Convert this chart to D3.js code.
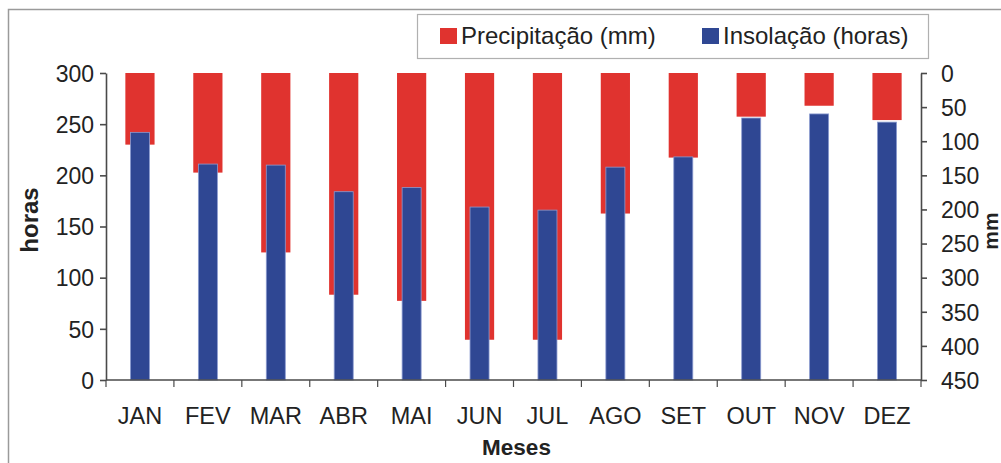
<!DOCTYPE html>
<html>
<head>
<meta charset="utf-8">
<script src="https://cdn.jsdelivr.net/npm/d3@7"></script>
<style>
  html, body { margin: 0; padding: 0; background: #fff; }
  svg { display: block; font-family: "Liberation Sans", Arial, sans-serif; }
</style>
</head>
<body>
<svg id="chart" width="1001" height="463"></svg>
<script>
// Monthly climate normals
const months = ["JAN", "FEV", "MAR", "ABR", "MAI", "JUN", "JUL", "AGO", "SET", "OUT", "NOV", "DEZ"];
const precipitacao = [105, 146, 263, 325, 334, 391, 391, 206, 124, 64, 48, 69];   // mm (right axis, inverted)
const insolacao = [242, 211, 210, 184, 188, 169, 166, 208, 218, 256, 260, 252];   // horas (left axis)
const horasTicks = [0, 50, 100, 150, 200, 250, 300];
const mmTicks = [0, 50, 100, 150, 200, 250, 300, 350, 400, 450];

const svg = d3.select("#chart");
const W = 1001, H = 463;
const plot = { left: 106, right: 921, top: 73, bottom: 380 };

const RED = "#e0332f";
const BLUE = "#2f4793";
const AXIS = "#4a4a4a";
const TEXT = "#222";

// Outer frame
svg.append("rect")
  .attr("x", 8.5).attr("y", 9.5)
  .attr("width", W + 10).attr("height", H + 10)
  .attr("fill", "none").attr("stroke", "#9a9a9a").attr("stroke-width", 1.5);

const x = d3.scaleBand().domain(months).range([plot.left, plot.right]).padding(0);
const yH = d3.scaleLinear().domain([0, 300]).range([plot.bottom, plot.top]);
const yMM = d3.scaleLinear().domain([0, 450]).range([plot.top, plot.bottom]);

const redW = x.bandwidth() * 0.43;
const blueW = x.bandwidth() * 0.28;

// Precipitation bars hang from the top (inverted secondary axis)
svg.append("g").selectAll("rect")
  .data(months)
  .join("rect")
  .attr("x", (d) => x(d) + (x.bandwidth() - redW) / 2)
  .attr("y", yMM(0))
  .attr("width", redW)
  .attr("height", (d, i) => yMM(precipitacao[i]) - yMM(0))
  .attr("fill", RED);

// Sunshine bars rise from the bottom
svg.append("g").selectAll("rect")
  .data(months)
  .join("rect")
  .attr("x", (d) => x(d) + (x.bandwidth() - blueW) / 2)
  .attr("y", (d, i) => yH(insolacao[i]))
  .attr("width", blueW)
  .attr("height", (d, i) => yH(0) - yH(insolacao[i]))
  .attr("fill", BLUE)
  .attr("stroke", "#8b9bd0")
  .attr("stroke-width", 0.8);

function styleAxis(g) {
  g.selectAll("path, line").attr("stroke", AXIS).attr("stroke-width", 1.6);
  g.selectAll("text").attr("fill", TEXT).attr("font-size", "23px")
    .attr("font-family", "'Liberation Sans', Arial, sans-serif");
}

// Left axis (horas)
svg.append("g")
  .attr("transform", `translate(${plot.left},0)`)
  .call(d3.axisLeft(yH).tickValues(horasTicks).tickSize(6).tickSizeOuter(0).tickPadding(6))
  .call(styleAxis)
  .selectAll("text").attr("dy", "0.36em");

// Right axis (mm)
svg.append("g")
  .attr("transform", `translate(${plot.right},0)`)
  .call(d3.axisRight(yMM).tickValues(mmTicks).tickSize(6).tickSizeOuter(0).tickPadding(14))
  .call(styleAxis)
  .selectAll("text").attr("dy", "0.36em");

// Bottom axis with ticks at category boundaries
const xAxis = svg.append("g").attr("transform", `translate(0,${plot.bottom})`);
xAxis.append("line")
  .attr("x1", plot.left).attr("x2", plot.right)
  .attr("stroke", AXIS).attr("stroke-width", 1.6);
const boundaries = months.map((d) => x(d)).concat([plot.right]);
xAxis.selectAll("line.tick")
  .data(boundaries)
  .join("line")
  .attr("class", "tick")
  .attr("x1", (d) => d).attr("x2", (d) => d)
  .attr("y1", 0).attr("y2", 7)
  .attr("stroke", AXIS).attr("stroke-width", 1.2);
xAxis.selectAll("text")
  .data(months)
  .join("text")
  .attr("x", (d) => x(d) + x.bandwidth() / 2)
  .attr("y", 44)
  .attr("text-anchor", "middle")
  .attr("font-size", "23.5px")
  .attr("fill", TEXT)
  .text((d) => d);

// Axis titles
svg.append("text")
  .attr("transform", `translate(38,220) rotate(-90)`)
  .attr("text-anchor", "middle")
  .attr("font-size", "24px").attr("font-weight", "bold").attr("fill", TEXT)
  .text("horas");

svg.append("text")
  .attr("transform", `translate(998,231) rotate(-90)`)
  .attr("text-anchor", "middle")
  .attr("font-size", "21px").attr("font-weight", "bold").attr("fill", TEXT)
  .text("mm");

svg.append("text")
  .attr("x", (plot.left + plot.right) / 2 + 3)
  .attr("y", 455)
  .attr("text-anchor", "middle")
  .attr("font-size", "22.5px").attr("font-weight", "bold").attr("fill", TEXT)
  .text("Meses");

// Legend
const legend = svg.append("g");
legend.append("rect")
  .attr("x", 417.5).attr("y", 14.5).attr("width", 511).attr("height", 44)
  .attr("fill", "#fff").attr("stroke", "#b0b0b0").attr("stroke-width", 1.2);
const legendItems = [
  { label: "Precipitação (mm)", color: RED, x: 440 },
  { label: "Insolação (horas)", color: BLUE, x: 702 }
];
legendItems.forEach((it) => {
  legend.append("rect")
    .attr("x", it.x).attr("y", 28).attr("width", 17).attr("height", 16)
    .attr("fill", it.color);
  legend.append("text")
    .attr("x", it.x + 21).attr("y", 44)
    .attr("font-size", "24px").attr("fill", TEXT)
    .text(it.label);
});
</script>
</body>
</html>
